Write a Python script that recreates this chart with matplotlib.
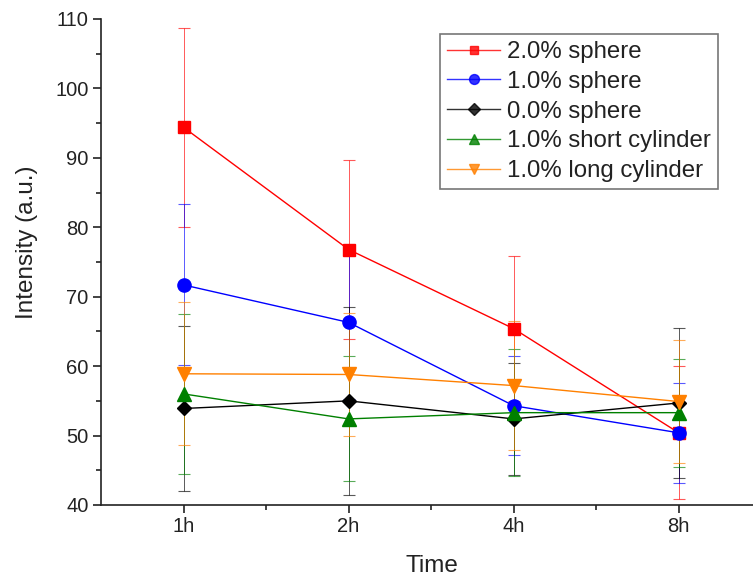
import matplotlib
matplotlib.use("Agg")
import matplotlib.pyplot as plt
from matplotlib.ticker import MultipleLocator, FixedLocator
from matplotlib.lines import Line2D

plt.rcParams['font.family'] = ['Liberation Sans', 'DejaVu Sans']

time_labels = ["1h", "2h", "4h", "8h"]
series_names = ["2.0% sphere", "1.0% sphere", "0.0% sphere",
                "1.0% short cylinder", "1.0% long cylinder"]

sphere_20 = [94.4, 76.8, 65.4, 50.4]
sphere_20_err = [14.3, 12.9, 10.4, 9.6]
sphere_10 = [71.7, 66.3, 54.3, 50.4]
sphere_10_err = [11.6, 11.0, 7.1, 7.2]
sphere_00 = [53.9, 55.0, 52.4, 54.7]
sphere_00_err = [11.9, 13.5, 8.1, 10.8]
short_cyl = [56.0, 52.4, 53.3, 53.3]
short_cyl_err = [11.5, 9.0, 9.1, 7.8]
long_cyl = [58.9, 58.8, 57.2, 54.9]
long_cyl_err = [10.3, 8.9, 9.3, 8.9]

values = [sphere_20, sphere_10, sphere_00, short_cyl, long_cyl]
errors = [sphere_20_err, sphere_10_err, sphere_00_err, short_cyl_err, long_cyl_err]
colors = ["#ff0000", "#0000ff", "#000000", "#008000", "#ff8000"]
markers = ["s", "o", "D", "^", "v"]
msizes = [8.5, 9.5, 7.5, 9.5, 9.5]

fig = plt.figure(figsize=(7.53, 5.82), dpi=100)
ax = fig.add_axes([101/753, 1 - 505/582, 1 - 101/753, (505 - 19)/582])

x = list(range(len(time_labels)))
handles = []
for vals, errs, c, m, ms, name in zip(values, errors, colors, markers, msizes, series_names):
    ax.errorbar(x, vals, yerr=errs, fmt='none', ecolor=c, elinewidth=0.7,
                capsize=4, capthick=0.8, alpha=0.65, zorder=1.5)
    ax.plot(x, vals, color=c, marker=m, markersize=ms, linewidth=1.0,
            markeredgecolor=c, zorder=3)
    handles.append(Line2D([], [], color=c, marker=m, markersize=ms * 0.75,
                          linewidth=1.0, alpha=0.8, markeredgecolor=c, label=name))

ax.set_xlim(-0.5, 3.45)
ax.set_ylim(40, 110)
ax.set_xticks(x)
ax.set_xticklabels(time_labels)
ax.xaxis.set_minor_locator(FixedLocator([0.5, 1.5, 2.5]))
ax.yaxis.set_major_locator(MultipleLocator(10))
ax.yaxis.set_minor_locator(MultipleLocator(5))
ax.tick_params(axis='both', which='major', direction='out', length=6, width=1.2,
               labelsize=14.5, pad=3, colors='#222222', labelcolor='#222222')
ax.tick_params(axis='both', which='minor', direction='out', length=3.5, width=1.2,
               colors='#222222')
ax.spines['top'].set_visible(False)
ax.spines['right'].set_visible(False)
ax.spines['left'].set_linewidth(1.2)
ax.spines['bottom'].set_linewidth(1.2)
ax.spines['left'].set_color('#222222')
ax.spines['bottom'].set_color('#222222')

ax.set_xlabel("Time", fontsize=17.5, color='#222222')
ax.set_ylabel("Intensity (a.u.)", fontsize=17.5, color='#222222')
ax.xaxis.set_label_coords((432 - 101) / 652, -(566 - 505) / 486, transform=ax.transAxes)
ax.yaxis.set_label_coords(-(101 - 27) / 652, (505 - 242) / 486, transform=ax.transAxes)
ax.xaxis.label.set_verticalalignment('center')
ax.yaxis.label.set_verticalalignment('center')

leg = ax.legend(handles=handles, loc='upper left',
                bbox_to_anchor=((440 - 101)/652, (505 - 34)/486),
                fontsize=17.3, frameon=True, fancybox=False, shadow=False,
                handlelength=2.2, handletextpad=0.3, labelspacing=0.32,
                borderpad=0.3, borderaxespad=0, labelcolor='#222222')
leg.get_frame().set_edgecolor('#555555')
leg.get_frame().set_linewidth(1.2)

fig.savefig("out.png", dpi=100)
